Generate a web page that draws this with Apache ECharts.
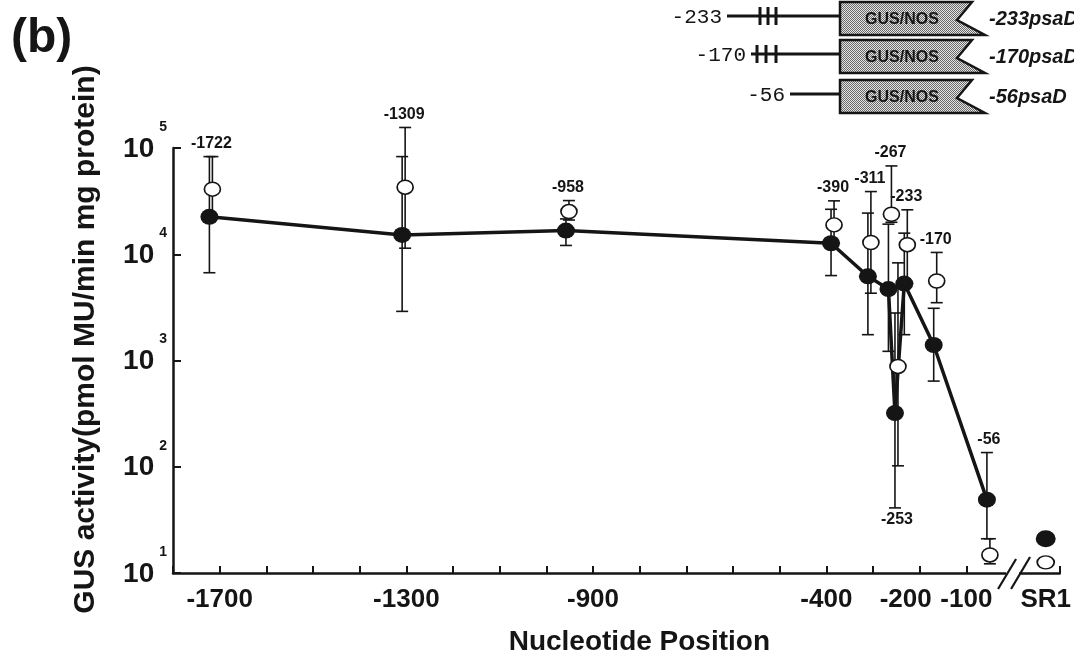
<!DOCTYPE html>
<html>
<head>
<meta charset="utf-8">
<script src="https://cdn.jsdelivr.net/npm/echarts@6/dist/echarts.min.js"></script>
<style>
  html, body { margin: 0; padding: 0; background: #fff; }
  #chart { width: 1074px; height: 661px; }
</style>
</head>
<body>
<div id="chart"></div>
<script>
// deletion end points (nucleotide position)
const positions = [-1722, -1309, -958, -390, -311, -267, -253, -233, -170, -56]
const labelBelow = [-253]
// filled circles (joined by the line)
const filled = [22500, 15200, 16700, 12700, 6200, 4700, 320, 5300, 1400, 49]
const filledLow = [6700, 2900, 12100, 6300, 1750, 1220, 41, 1750, 640, 21]
const filledHigh = [83000, 83000, 21500, 26500, 24400, 19200, 2800, 15800, 3100, 136]
// open circles
const open = [41000, 42800, 25200, 18900, 12900, 23800, 880, 12300, 5600, 14.8]
const openLow = [22500, 11400, 21000, 12700, 4300, 20000, 102, 5300, 3500, 12.2]
const openHigh = [83000, 156000, 32000, 31800, 38900, 67800, 8300, 26200, 10400, 21]
// SR1 control
const sr1Pos = 70
const sr1Filled = 21
const sr1Open = 12.6
// axes
const xTickValues = [-1700, -1300, -900, -400, -200, -100, 70]
const xTickLabels = ['-1700', '-1300', '-900', '-400', '-200', '-100', 'SR1']
const yExponents = ['1', '2', '3', '4', '5']

const FONT = '"Liberation Sans", Arial, Helvetica, sans-serif'
const INK = '#151515'

const chart = echarts.init(document.getElementById('chart'))

function errorBars(lows, highs, dx) {
  return {
    type: 'custom',
    z: 3,
    clip: false,
    silent: true,
    data: positions.map((p, i) => [p, lows[i], highs[i]]),
    renderItem(params, api) {
      const lo = api.coord([api.value(0), api.value(1)])
      const hi = api.coord([api.value(0), api.value(2)])
      const x = lo[0] + dx
      const w = 6
      const style = { stroke: INK, lineWidth: 1.6 }
      return {
        type: 'group',
        children: [
          { type: 'line', shape: { x1: x, y1: lo[1], x2: x, y2: hi[1] }, style },
          { type: 'line', shape: { x1: x - w, y1: hi[1], x2: x + w, y2: hi[1] }, style },
          { type: 'line', shape: { x1: x - w, y1: lo[1], x2: x + w, y2: lo[1] }, style },
        ],
      }
    },
  }
}

const pointLabels = {
  type: 'custom',
  z: 6,
  clip: false,
  silent: true,
  data: positions.map((p, i) => {
    const below = labelBelow.includes(p)
    const ref = below ? Math.min(filledLow[i], openLow[i]) : Math.max(filledHigh[i], openHigh[i])
    return [p, ref, below ? 1 : 0]
  }),
  renderItem(params, api) {
    const pt = api.coord([api.value(0), api.value(1)])
    const below = api.value(2) === 1
    return {
      type: 'text',
      style: {
        text: String(api.value(0)),
        x: pt[0] + 2,
        y: below ? pt[1] + 12 : pt[1] - 13,
        align: 'center',
        verticalAlign: 'middle',
        font: 'bold 16px ' + FONT,
        fill: INK,
      },
    }
  },
}

// stipple fill for the construct boxes
const stipple = document.createElement('canvas')
stipple.width = 2
stipple.height = 2
const sctx = stipple.getContext('2d')
sctx.fillStyle = '#e4e4e4'
sctx.fillRect(0, 0, 2, 2)
sctx.fillStyle = '#6a6a6a'
sctx.fillRect(0, 0, 1, 1)
sctx.fillRect(1, 1, 1, 1)

function construct(name, tag, top, lineStart, bars) {
  const t = top, b = top + 33, c = top + 16
  const ly = top + 14
  const els = [
    { type: 'text', style: { text: name, x: lineStart - 5, y: ly + 1, align: 'right', verticalAlign: 'middle', font: '21px "Liberation Mono", "Courier New", monospace', fill: INK } },
    { type: 'line', shape: { x1: lineStart, y1: ly, x2: 840, y2: ly }, style: { stroke: INK, lineWidth: 3 } },
    { type: 'polygon', shape: { points: [[840, t], [972, t], [957, c + 2], [985, b], [840, b]] }, style: { fill: { image: stipple, repeat: 'repeat' }, stroke: INK, lineWidth: 2.5 } },
    { type: 'text', style: { text: 'GUS/NOS', x: 902, y: c + 2, align: 'center', verticalAlign: 'middle', font: 'bold 16px ' + FONT, fill: INK } },
    { type: 'text', style: { text: tag, x: 989, y: c + 1, align: 'left', verticalAlign: 'middle', font: 'italic bold 20px ' + FONT, fill: INK } },
  ]
  bars.forEach(bx => {
    els.push({ type: 'line', shape: { x1: bx, y1: ly - 9, x2: bx, y2: ly + 9 }, style: { stroke: INK, lineWidth: 3 } })
  })
  return els
}

const option = {
  backgroundColor: '#fff',
  animation: false,
  textStyle: { fontFamily: FONT, color: INK },
  title: {
    text: '(b)',
    left: 6,
    top: 10,
    textStyle: { fontSize: 48, fontWeight: 'bold', color: INK, fontFamily: FONT },
  },
  grid: { left: 173, right: 6, top: 148, bottom: 87 },
  xAxis: {
    type: 'value',
    min: -1800,
    max: 100,
    interval: 100,
    name: 'Nucleotide Position',
    nameLocation: 'middle',
    nameGap: 55,
    nameTextStyle: { fontSize: 28, fontWeight: 'bold', color: INK, padding: [0, 0, 0, 46] },
    axisLine: { onZero: false, lineStyle: { color: INK, width: 2.5 } },
    axisTick: { inside: true, length: 7, lineStyle: { color: INK, width: 2 } },
    splitLine: { show: false },
    axisLabel: {
      customValues: xTickValues,
      margin: 14,
      fontSize: 26,
      fontWeight: 'bold',
      color: INK,
      formatter: v => {
        const lbl = xTickLabels[xTickValues.indexOf(v)]
        return v === -200 ? '{l|' + lbl + '}' : lbl
      },
      rich: { l: { fontSize: 26, fontWeight: 'bold', color: INK, padding: [0, 28, 0, 0] } },
    },
  },
  yAxis: {
    type: 'log',
    logBase: 10,
    min: 10,
    max: 100000,
    name: 'GUS activity(pmol MU/min mg protein)',
    nameLocation: 'middle',
    nameGap: 72,
    nameTextStyle: { fontSize: 30, fontWeight: 'bold', color: INK, padding: [0, 0, 0, 42] },
    axisLine: { show: true, onZero: false, lineStyle: { color: INK, width: 2.5 } },
    axisTick: { inside: true, length: 8, lineStyle: { color: INK, width: 2 } },
    splitLine: { show: false },
    minorTick: { show: false },
    axisLabel: {
      margin: 6,
      padding: [0, 0, 13, 0],
      formatter: (v, i) => '{b|10}{s|' + yExponents[i] + '}',
      rich: {
        b: { fontSize: 28, fontWeight: 'bold', color: INK, lineHeight: 43, verticalAlign: 'bottom' },
        s: { fontSize: 14, fontWeight: 'bold', color: INK, lineHeight: 14, verticalAlign: 'top', padding: [0, 0, 0, 5] },
      },
    },
  },
  series: [
    errorBars(filledLow, filledHigh, 0),
    errorBars(openLow, openHigh, 3),
    {
      type: 'line',
      z: 4,
      data: positions.map((p, i) => [p, filled[i]]),
      symbol: 'circle',
      symbolSize: [18, 16],
      itemStyle: { color: INK },
      lineStyle: { color: INK, width: 3.5 },
    },
    {
      type: 'scatter',
      z: 5,
      data: positions.map((p, i) => [p, open[i]]),
      symbol: 'circle',
      symbolSize: [16, 14],
      symbolOffset: [3, 0],
      itemStyle: { color: '#fff', borderColor: INK, borderWidth: 1.6, opacity: 1 },
    },
    {
      type: 'scatter',
      z: 5,
      data: [[sr1Pos, sr1Filled]],
      symbol: 'circle',
      symbolSize: [20, 17],
      itemStyle: { color: INK, opacity: 1 },
    },
    {
      type: 'scatter',
      z: 5,
      data: [[sr1Pos, sr1Open]],
      symbol: 'circle',
      symbolSize: [17, 13],
      itemStyle: { color: '#fff', borderColor: INK, borderWidth: 1.6, opacity: 1 },
    },
    pointLabels,
  ],
}

chart.setOption(option)

// axis break between -100 and SR1, plus the construct diagrams
const bx = chart.convertToPixel({ xAxisIndex: 0 }, 0)
const ay = chart.convertToPixel({ yAxisIndex: 0 }, 10)
const slash = { stroke: INK, lineWidth: 2.2 }
chart.setOption({
  graphic: [
    { type: 'rect', shape: { x: bx - 7, y: ay - 9, width: 13, height: 12 }, style: { fill: '#fff' }, z: 100 },
    { type: 'line', shape: { x1: bx - 15, y1: ay + 16, x2: bx + 3, y2: ay - 14 }, style: slash, z: 101 },
    { type: 'line', shape: { x1: bx - 2, y1: ay + 16, x2: bx + 17, y2: ay - 16 }, style: slash, z: 101 },
    ...construct('-233', '-233psaD', 2, 727, [760, 768, 776]),
    ...construct('-170', '-170psaD', 40, 751, [757, 766, 776]),
    ...construct('-56', '-56psaD', 80, 790, []),
  ],
})
</script>
</body>
</html>
